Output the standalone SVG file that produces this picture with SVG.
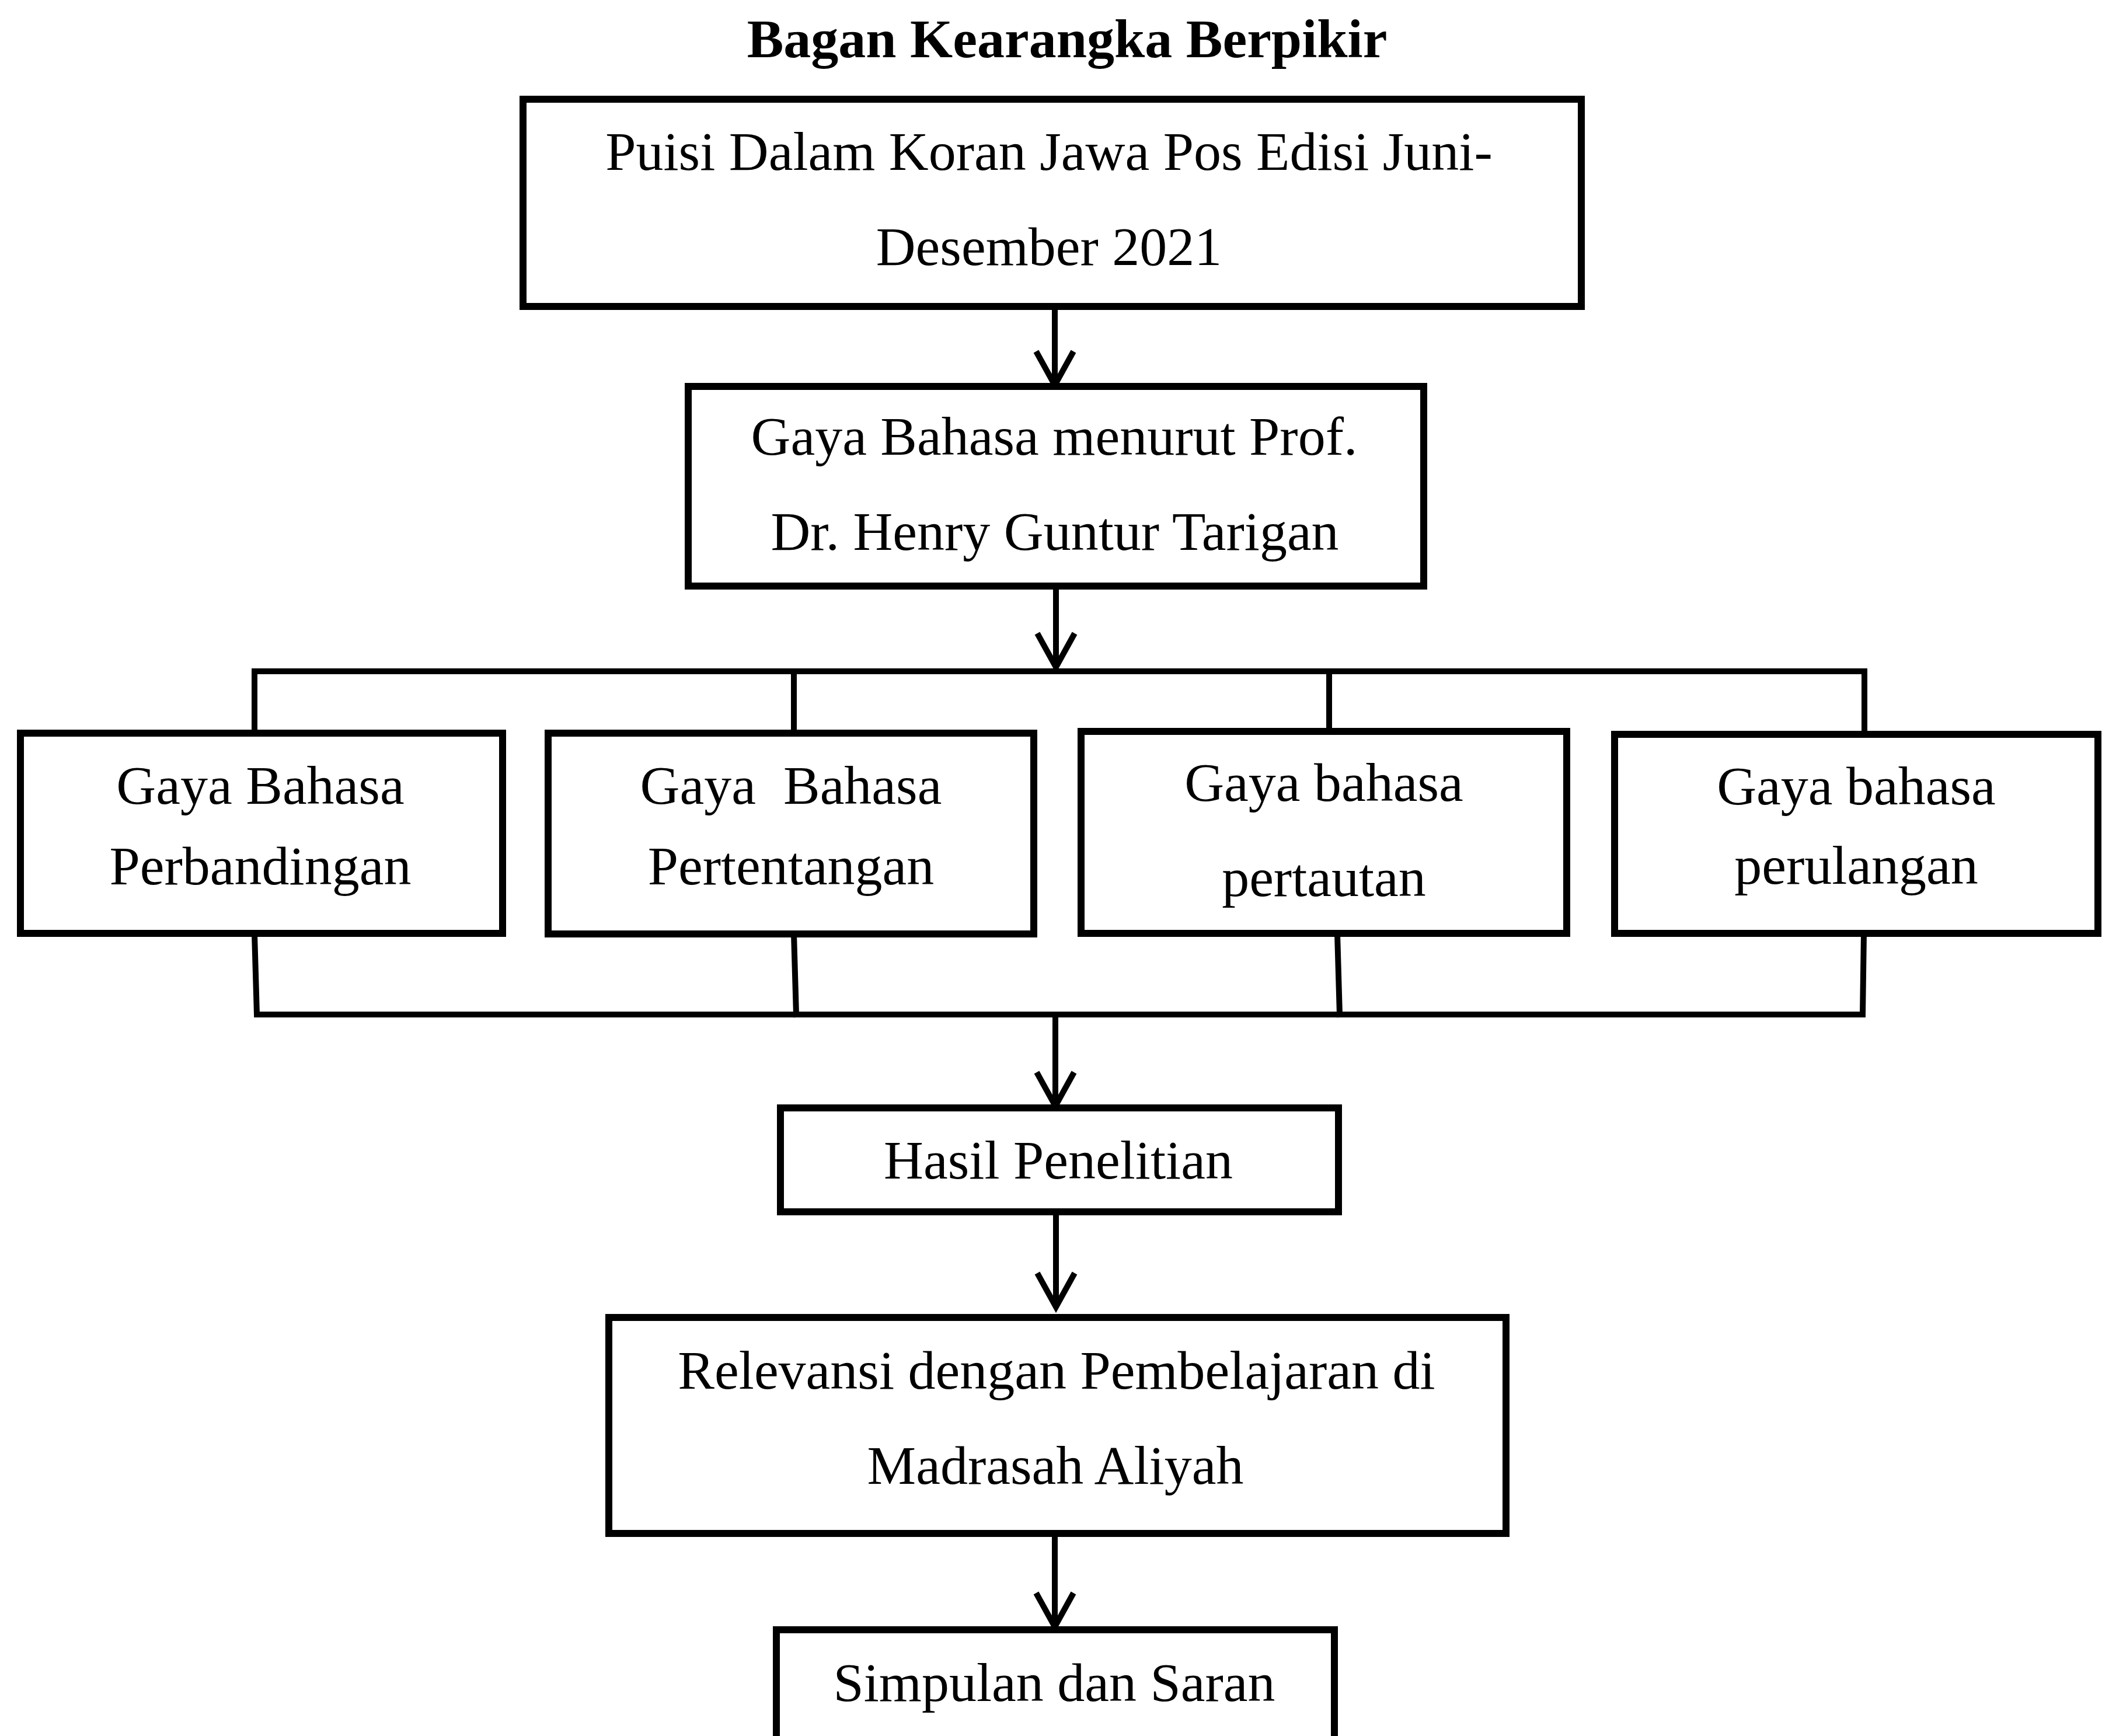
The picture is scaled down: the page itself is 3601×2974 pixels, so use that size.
<svg xmlns="http://www.w3.org/2000/svg" width="3601" height="2974" viewBox="0 0 3601 2974">
  <style>
    .box { fill: #ffffff; stroke: #000000; stroke-width: 12; }
    .conn { fill: none; stroke: #000000; stroke-width: 10; stroke-linecap: square; }
    .arrow { fill: none; stroke: #000000; stroke-width: 10; marker-end: url(#vhead); }
    .lbl { font-family: "Liberation Serif", "Times New Roman", serif; font-size: 94px; fill: #000000; text-anchor: middle; }
    .title { font-family: "Liberation Serif", "Times New Roman", serif; font-size: 94px; font-weight: bold; fill: #000000; text-anchor: middle; }
  </style>
  <defs>
    <marker id="vhead" markerUnits="userSpaceOnUse" viewBox="-75 -45 90 90" markerWidth="90" markerHeight="90" refX="0" refY="0" orient="auto">
      <path d="M -58 -32 L 0 0 L -58 32" fill="none" stroke="#000000" stroke-width="10" stroke-linejoin="miter"/>
    </marker>
  </defs>
  <rect x="0" y="0" width="3601" height="2974" fill="#ffffff"/>

  <text class="title" x="1828" y="98">Bagan Kearangka Berpikir</text>

  <g id="connectors">
    <line class="arrow" x1="1807" y1="526" x2="1807" y2="660"/>
    <line class="arrow" x1="1809" y1="1004" x2="1809" y2="1143"/>
    <polyline class="conn" points="436,1256 436,1150 3194,1150 3194,1256"/>
    <line class="conn" x1="1360" y1="1150" x2="1360" y2="1256"/>
    <line class="conn" x1="2277" y1="1150" x2="2277" y2="1256"/>
    <polyline class="conn" points="436,1600 440,1738 3191,1738 3193,1600"/>
    <line class="conn" x1="1360" y1="1600" x2="1364" y2="1738"/>
    <line class="conn" x1="2291" y1="1600" x2="2295" y2="1738"/>
    <line class="arrow" x1="1808" y1="1738" x2="1808" y2="1895"/>
    <line class="arrow" x1="1809" y1="2076" x2="1809" y2="2239"/>
    <line class="arrow" x1="1807" y1="2627" x2="1807" y2="2787"/>
  </g>

  <g id="node-puisi">
    <rect class="box" x="896" y="170" width="1813" height="355"/>
    <text class="lbl" x="1797" y="291">Puisi Dalam Koran Jawa Pos Edisi Juni-</text>
    <text class="lbl" x="1797" y="454">Desember 2021</text>
  </g>

  <g id="node-tarigan">
    <rect class="box" x="1179" y="662" width="1260" height="342"/>
    <text class="lbl" x="1806" y="779">Gaya Bahasa menurut Prof.</text>
    <text class="lbl" x="1807" y="942">Dr. Henry Guntur Tarigan</text>
  </g>

  <g id="node-perbandingan">
    <rect class="box" x="35" y="1256" width="826" height="343"/>
    <text class="lbl" x="446" y="1377">Gaya Bahasa</text>
    <text class="lbl" x="446" y="1515">Perbandingan</text>
  </g>

  <g id="node-pertentangan">
    <rect class="box" x="939" y="1256" width="832" height="344"/>
    <text class="lbl" x="1355" y="1377" xml:space="preserve">Gaya  Bahasa</text>
    <text class="lbl" x="1355" y="1515">Pertentangan</text>
  </g>

  <g id="node-pertautan">
    <rect class="box" x="1852" y="1253" width="832" height="346"/>
    <text class="lbl" x="2268" y="1372">Gaya bahasa</text>
    <text class="lbl" x="2268" y="1535">pertautan</text>
  </g>

  <g id="node-perulangan">
    <rect class="box" x="2766" y="1258" width="828" height="341"/>
    <text class="lbl" x="3180" y="1378">Gaya bahasa</text>
    <text class="lbl" x="3180" y="1514">perulangan</text>
  </g>

  <g id="node-hasil">
    <rect class="box" x="1337" y="1898" width="956" height="178"/>
    <text class="lbl" x="1813" y="2019">Hasil Penelitian</text>
  </g>

  <g id="node-relevansi">
    <rect class="box" x="1043" y="2257" width="1537" height="370"/>
    <text class="lbl" x="1810" y="2379">Relevansi dengan Pembelajaran di</text>
    <text class="lbl" x="1808" y="2542">Madrasah Aliyah</text>
  </g>

  <g id="node-simpulan">
    <rect class="box" x="1330" y="2792" width="956" height="220"/>
    <text class="lbl" x="1806" y="2914">Simpulan dan Saran</text>
  </g>
</svg>
